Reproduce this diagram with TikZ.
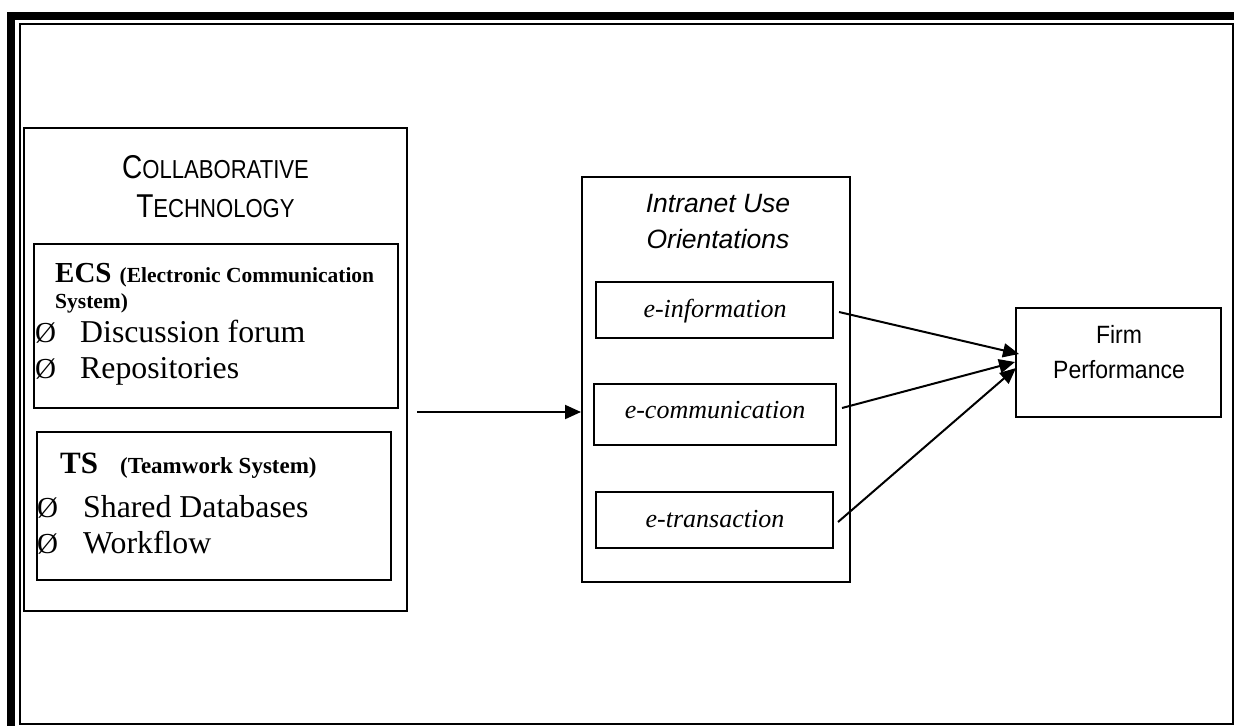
\documentclass[tikz,border=0pt]{standalone}
\usepackage{fontspec}
\setmainfont{Liberation Serif}
\newfontfamily\arialf{Liberation Sans}
\newfontfamily\narrowf[FakeStretch=0.85]{Liberation Sans}
\newfontfamily\firmf[FakeStretch=0.92]{Liberation Sans}
\usetikzlibrary{arrows.meta,calc}
\begin{document}
\begin{tikzpicture}[x=1pt,y=-1pt,
  box/.style={draw, line width=2pt, inner sep=0pt},
  txt/.style={inner sep=0pt, anchor=base},
  lt/.style={inner sep=0pt, anchor=base west},
  big/.style={font=\fontsize{31.8}{32}\selectfont},
  bul/.style={font=\fontsize{29}{29}\selectfont},
  etext/.style={font=\fontsize{26}{26}\selectfont\itshape},
  sanst/.style={font=\firmf\fontsize{25}{25}\selectfont},
  arr/.style={-{Triangle[length=16pt,width=14pt]}, line width=2pt}]
\useasboundingbox (0,0) rectangle (1234,726);
% frame
\fill (7,12) rectangle (1234,20);
\fill (7,12) rectangle (15,726);
\draw[line width=2pt] (19.5,23.5) rectangle (1233,724);
% boxes
\node[box, minimum width=383pt, minimum height=483pt] (ct) at (215.5,369.5) {};
\node[box, minimum width=364pt, minimum height=164pt] (ecs) at (216,326) {};
\node[box, minimum width=354pt, minimum height=148pt] (ts) at (214,506) {};
\node[box, minimum width=268pt, minimum height=405pt] (intr) at (716,379.5) {};
\node[box, minimum width=237pt, minimum height=56pt] (einfo) at (714.5,310) {};
\node[box, minimum width=242pt, minimum height=61pt] (ecomm) at (715,414.5) {};
\node[box, minimum width=237pt, minimum height=56pt] (etrans) at (714.5,520) {};
\node[box, minimum width=205pt, minimum height=109pt] (firm) at (1118.5,362.5) {};
% collaborative technology
\node[txt, font=\narrowf\fontsize{33}{33}\selectfont] (ct1) at (215.5,178) {C{\fontsize{26}{26}\selectfont OLLABORATIVE}};
\node[txt, font=\narrowf\fontsize{33}{33}\selectfont] (ct2) at (215.5,217) {T{\fontsize{26}{26}\selectfont ECHNOLOGY}};
% ECS
\node[lt, font=\bfseries] (ecs1) at (55,282) {{\fontsize{29}{29}\selectfont ECS}\hspace{8pt}{\fontsize{21.5}{21.5}\selectfont (Electronic Communication}};
\node[lt, font=\bfseries\fontsize{21.5}{21.5}\selectfont] (ecs2) at (55,308) {System)};
\node[lt, bul] (b1) at (35,342) {Ø};
\node[lt, big] (d1) at (80,342) {Discussion forum};
\node[lt, bul] (b2) at (35,378) {Ø};
\node[lt, big] (d2) at (80,378) {Repositories};
% TS
\node[lt, font=\bfseries] (ts1) at (60,473) {{\fontsize{31}{31}\selectfont TS}\hspace{22pt}{\fontsize{23}{23}\selectfont (Teamwork System)}};
\node[lt, bul] (b3) at (37,517) {Ø};
\node[lt, big] (s1) at (83,517) {Shared Databases};
\node[lt, bul] (b4) at (37,553) {Ø};
\node[lt, big] (s2) at (83,553) {Workflow};
% intranet
\node[txt, font=\arialf\itshape\fontsize{26.5}{26.5}\selectfont] (it1) at (718,212) {Intranet Use};
\node[txt, font=\arialf\itshape\fontsize{26.5}{26.5}\selectfont] (it2) at (718,248) {Orientations};
\node[txt, etext] (tinfo) at (715,317) {e-information};
\node[txt, etext] (tcomm) at (715,418) {e-communication};
\node[txt, etext] (ttrans) at (715,527) {e-transaction};
% firm
\node[txt, sanst] (f1) at (1119,343) {Firm};
\node[txt, sanst] (f2) at (1119,378) {Performance};
% arrows
\draw[arr] ($(ct.east)+(9,42.5)$) -- ($(intr.west)+(0,32.5)$);
\draw[arr] ($(einfo.east)+(5,2)$) -- ($(firm.west)+(4,-8.5)$);
\draw[arr] ($(ecomm.east)+(5,-6.5)$) -- ($(firm.west)+(0,-0.5)$);
\draw[arr] ($(etrans.east)+(4,2)$) -- ($(firm.west)+(1,5.5)$);
\end{tikzpicture}
\end{document}
